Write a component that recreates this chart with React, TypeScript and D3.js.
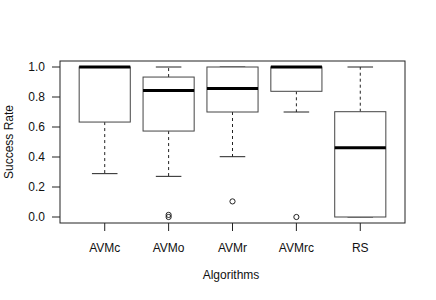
import React from "react";
import * as d3 from "d3";

const categories = ["AVMc", "AVMo", "AVMr", "AVMrc", "RS"];
const lowerWhisker = [0.289, 0.271, 0.402, 0.70, 0.0];
const q1 = [0.633, 0.573, 0.70, 0.838, 0.0];
const median = [1.0, 0.844, 0.856, 1.0, 0.462];
const q3 = [1.0, 0.933, 1.0, 1.0, 0.702];
const upperWhisker = [1.0, 1.0, 1.0, 1.0, 1.0];
const outliers: number[][] = [[], [0.0, 0.014], [0.104], [0.0], []];
const yTicks = [0, 0.2, 0.4, 0.6, 0.8, 1.0];

export default function App() {
  const W = 436, H = 300;
  const left = 60, right = 405, top = 61, bottom = 223;
  const n = categories.length;
  const x = d3.scaleLinear().domain([0.5 - 0.04 * n, n + 0.5 + 0.04 * n]).range([left, right]);
  const y = d3.scaleLinear().domain([-0.04, 1.04]).range([bottom, top]);
  const bw = (x(1) - x(0)) * 0.8;
  const tick = 8;
  const font = "Liberation Sans, Arial, Helvetica, sans-serif";
  return (
    <svg width={W} height={H} style={{ position: "absolute", left: 0, top: 0 }} fontFamily={font}>
      <rect width={W} height={H} fill="white" />
      <rect x={left} y={top} width={right - left} height={bottom - top} fill="none" stroke="#222" strokeWidth={1} />
      {categories.map((c, i) => {
        const cx = x(i + 1);
        return (
          <g key={c}>
            <line x1={cx} x2={cx} y1={y(q1[i])} y2={y(lowerWhisker[i])} stroke="#222" strokeDasharray="3,3" />
            <line x1={cx} x2={cx} y1={y(q3[i])} y2={y(upperWhisker[i])} stroke="#222" strokeDasharray="3,3" />
            <line x1={cx - bw / 4} x2={cx + bw / 4} y1={y(lowerWhisker[i])} y2={y(lowerWhisker[i])} stroke="#222" />
            <line x1={cx - bw / 4} x2={cx + bw / 4} y1={y(upperWhisker[i])} y2={y(upperWhisker[i])} stroke="#222" />
            <rect x={cx - bw / 2} y={y(q3[i])} width={bw} height={Math.max(0.01, y(q1[i]) - y(q3[i]))} fill="white" stroke="#444" strokeWidth={1} />
            <line x1={cx - bw / 2} x2={cx + bw / 2} y1={y(median[i])} y2={y(median[i])} stroke="black" strokeWidth={3} />
            {outliers[i].map((v, j) => (
              <circle key={j} cx={cx} cy={y(v)} r={2.6} fill="none" stroke="#222" strokeWidth={1} />
            ))}
            <line x1={cx} x2={cx} y1={bottom} y2={bottom + tick} stroke="#222" />
            <text x={cx} y={251.5} textAnchor="middle" fontSize={12} fill="#111">{c}</text>
          </g>
        );
      })}
      {yTicks.map((t) => (
        <g key={t}>
          <line x1={left - tick} x2={left} y1={y(t)} y2={y(t)} stroke="#222" />
          <text x={left - 15} y={y(t) + 4} textAnchor="end" fontSize={12} fill="#111">{t.toFixed(1)}</text>
        </g>
      ))}
      <text x={231} y={279} textAnchor="middle" fontSize={12} fill="#111">Algorithms</text>
      <text transform={`translate(13,${(top + bottom) / 2}) rotate(-90)`} textAnchor="middle" fontSize={12} fill="#111">Success Rate</text>
    </svg>
  );
}
